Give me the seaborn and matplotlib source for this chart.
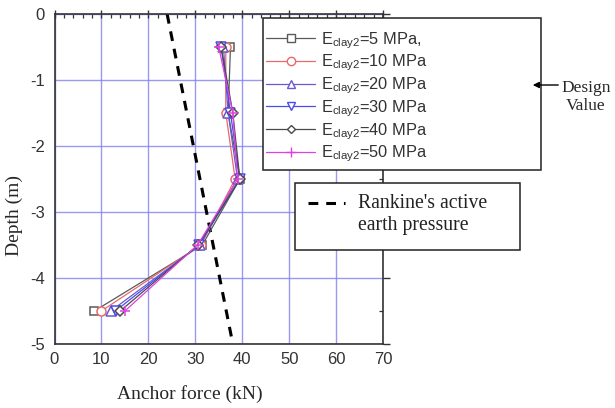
import numpy as np
import pandas as pd
import matplotlib
matplotlib.use("Agg")
import matplotlib.pyplot as plt
from matplotlib.lines import Line2D
from matplotlib.patches import Rectangle, FancyArrowPatch
from matplotlib.ticker import MultipleLocator
import seaborn as sns

# Anchor depths (m) and anchor forces (kN) for each clay modulus
depths = [-0.5, -1.5, -2.5, -3.5, -4.5]
cases = ["5 MPa,", "10 MPa", "20 MPa", "30 MPa", "40 MPa", "50 MPa"]
force_5 = [37.5, 37.0, 39.5, 31.5, 8.5]
force_10 = [36.5, 36.5, 38.5, 31.2, 10.0]
force_20 = [36.0, 37.0, 39.0, 31.0, 12.0]
force_30 = [35.5, 37.5, 39.5, 30.8, 13.0]
force_40 = [35.5, 38.0, 39.5, 30.6, 14.0]
force_50 = [35.0, 38.0, 39.0, 30.5, 15.0]
forces = [force_5, force_10, force_20, force_30, force_40, force_50]

# Rankine active earth pressure line
rankine_depth = [0.0, -5.0]
rankine_force = [24.0, 38.0]

x_ticks = [0, 10, 20, 30, 40, 50, 60, 70]
y_ticks = [0, -1, -2, -3, -4, -5]

colors = ["#5a5a5a", "#e86a6a", "#6a5acd", "#4a4af0", "#4a4a4a", "#e040e0"]
markers = ["s", "o", "^", "v", "D", "+"]
msizes = [6, 6.5, 6.5, 6.5, 5, 7]

rows = []
for case, vals in zip(cases, forces):
    for d, f in zip(depths, vals):
        rows.append({"case": case, "depth": d, "force": f})
df = pd.DataFrame(rows)
rk = pd.DataFrame({"depth": rankine_depth, "force": rankine_force})

sns.set_style("white")
plt.rcParams["font.family"] = ["Liberation Sans", "DejaVu Sans"]

W, H = 615, 408
fig = plt.figure(figsize=(W / 100, H / 100), dpi=100)
ax = fig.add_axes([54.5 / W, 1 - 344 / H, (383 - 54.5) / W, (344 - 14) / H])

ax.grid(True, color="#8080ee", linewidth=1.0, alpha=0.8)
ax.set_axisbelow(True)

sns.lineplot(data=rk, x="force", y="depth", color="black", linewidth=2.2,
             sort=False, estimator=None, ax=ax, legend=False)
ax.lines[-1].set_dashes((3.2, 2.6))

handles = []
for case, col, mk, ms in zip(cases, colors, markers, msizes):
    sub = df[df["case"] == case]
    sns.lineplot(data=sub, x="force", y="depth", color=col, linewidth=0.9,
                 sort=False, estimator=None, ax=ax, legend=False,
                 marker=mk, markersize=ms)
    ln = ax.lines[-1]
    ln.set_markerfacecolor("white" if mk != "+" else col)
    ln.set_markeredgecolor(col)
    ln.set_markeredgewidth(1.1)
    handles.append(Line2D([], [], color=col, linewidth=0.9, marker=mk,
                          markersize=ms - 0.5,
                          markerfacecolor="white" if mk != "+" else col,
                          markeredgecolor=col, markeredgewidth=1.0))

ax.set_xlim(0, 70)
ax.set_ylim(-5, 0)
ax.set_xticks(x_ticks)
ax.set_yticks(y_ticks)
ax.set_yticklabels([str(v) for v in y_ticks])
ax.xaxis.set_minor_locator(MultipleLocator(2))
ax.yaxis.set_minor_locator(MultipleLocator(0.5))
ax.tick_params(which="major", direction="out", length=5, width=1,
               labelsize=12, colors="#333333", top=True, right=True)
ax.tick_params(which="minor", direction="in", length=3, width=0.9,
               top=True, right=True, colors="#333333")
ax.tick_params(axis="x", which="major", direction="inout", length=6, pad=3)
ax.tick_params(axis="y", which="major", pad=2)
for sp in ax.spines.values():
    sp.set_color("#333333")
    sp.set_linewidth(1.2)

ax.set_xlabel("Anchor force (kN)", family="Liberation Serif", fontsize=14)
ax.set_ylabel("Depth (m)", family="Liberation Serif", fontsize=14)
ax.xaxis.set_label_coords(0.412, -0.125)
ax.yaxis.set_label_coords(-0.095, 0.39)

# Legend panel for the modulus cases
fig.add_artist(Rectangle((263 / W, 1 - 170 / H), (541 - 263) / W, (170 - 18) / H,
                         transform=fig.transFigure, facecolor="white",
                         edgecolor="#222222", linewidth=1.1, zorder=5))
labels = [r"E$_{\mathregular{clay2}}$=" + c for c in cases]
leg = fig.legend(handles, labels, loc="upper left",
                 bbox_to_anchor=(266 / W, 1 - 30 / H),
                 bbox_transform=fig.transFigure, frameon=False,
                 fontsize=11.8, handlelength=3.0, handletextpad=0.35,
                 labelspacing=0.13, borderaxespad=0, borderpad=0)
leg.set_zorder(6)
for t in leg.get_texts():
    t.set_color("#333333")

# Rankine line key
fig.add_artist(Rectangle((295 / W, 1 - 250 / H), (520 - 295) / W, (250 - 183) / H,
                         transform=fig.transFigure, facecolor="white",
                         edgecolor="#222222", linewidth=1.1, zorder=5))
fig.add_artist(Line2D([308 / W, 345 / W], [1 - 203 / H, 1 - 203 / H],
                      transform=fig.transFigure, color="black", linewidth=2.2,
                      dashes=(3.2, 2.6), zorder=6))
fig.text(358 / W, 1 - 194 / H, "Rankine's active\nearth pressure",
         family="Liberation Serif", fontsize=14.2, va="top", ha="left",
         linespacing=1.2, zorder=6, color="#222222")

# Design value annotation
fig.add_artist(FancyArrowPatch((561 / W, 1 - 85 / H), (530 / W, 1 - 85 / H),
                               transform=fig.transFigure, arrowstyle="-|>",
                               mutation_scale=9, color="black", lw=1.0,
                               zorder=7))
fig.text(586 / W, 1 - 97 / H, "Design\nValue", family="Liberation Serif",
         fontsize=12.5, ha="center", va="center", linespacing=1.25, zorder=6)

fig.savefig("out.png", dpi=100)
